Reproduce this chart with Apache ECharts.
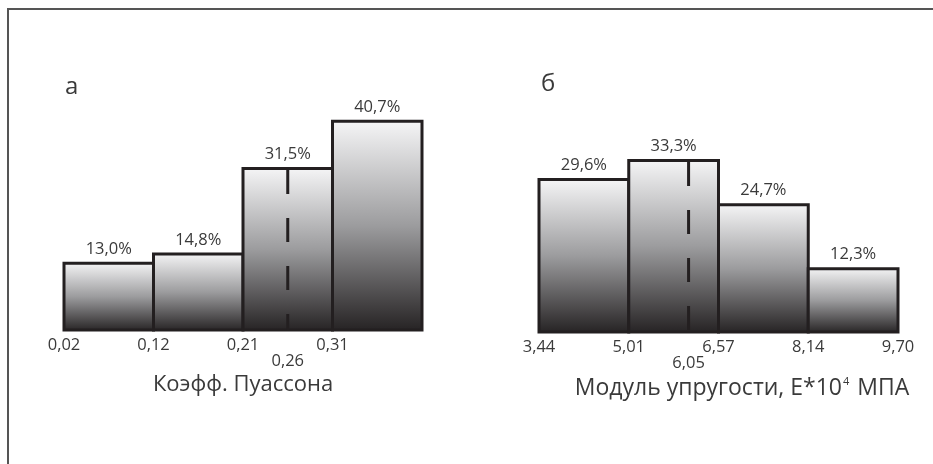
<!DOCTYPE html>
<html>
<head>
<meta charset="utf-8">
<script src="https://cdn.jsdelivr.net/npm/echarts@6/dist/echarts.min.js"></script>
<style>html,body{margin:0;padding:0;background:#fff;}#c{width:933px;height:464px;}</style>
</head>
<body>
<div id="c"></div>
<script>
// ---- data ----
const ticksA = ['0,02', '0,12', '0,21', '0,31', ''];
const edgesA = [0.02, 0.12, 0.21, 0.31];
const valuesA = [13.0, 14.8, 31.5, 40.7];
const medianA = 0.26;
const medianLabelA = '0,26';
const titleA = 'Коэфф. Пуассона';
const panelA = 'а';

const ticksB = ['3,44', '5,01', '6,57', '8,14', '9,70'];
const edgesB = [3.44, 5.01, 6.57, 8.14, 9.70];
const valuesB = [29.6, 33.3, 24.7, 12.3];
const medianB = 6.05;
const medianLabelB = '6,05';
const panelB = 'б';

const FONT = '"Open Sans", "DejaVu Sans", sans-serif';
const INK = '#231f20';
const TEXT = '#3a3a3a';
const LBL = 16.5;

function fmtPct(v) { return v.toFixed(1).replace('.', ',') + '%'; }

function medianPos(edges, values, m) {
  for (let i = 0; i < edges.length - 1; i++) {
    if (m >= edges[i] && m < edges[i + 1]) {
      return [i + (m - edges[i]) / (edges[i + 1] - edges[i]), values[i]];
    }
  }
  return [0, 0];
}

function barSeries(idx, values) {
  return {
    type: 'custom',
    xAxisIndex: idx, yAxisIndex: idx,
    data: values.map((v, i) => [i, v]),
    renderItem: function (params, api) {
      const i = api.value(0), v = api.value(1);
      const p0 = api.coord([i, 0]);
      const p1 = api.coord([i + 1, v]);
      return {
        type: 'rect',
        shape: { x: p0[0], y: p1[1], width: p1[0] - p0[0], height: p0[1] - p1[1] },
        style: {
          fill: new echarts.graphic.LinearGradient(0, 0, 0, 1, [
            { offset: 0, color: '#f6f6f7' },
            { offset: 0.5, color: '#9c9c9e' },
            { offset: 1, color: '#252223' }
          ]),
          stroke: INK, lineWidth: 3
        },
        textContent: {
          style: { text: fmtPct(v), fill: TEXT, font: LBL + 'px ' + FONT }
        },
        textConfig: { position: 'top', distance: 4 }
      };
    }
  };
}

function medianSeries(idx, pos, label) {
  return {
    type: 'custom',
    xAxisIndex: idx, yAxisIndex: idx,
    z: 5,
    data: [pos],
    renderItem: function (params, api) {
      const top = api.coord([api.value(0), api.value(1)]);
      const bot = api.coord([api.value(0), 0]);
      return {
        type: 'group',
        children: [
          { type: 'line', shape: { x1: top[0], y1: top[1] + 1.5, x2: bot[0], y2: bot[1] },
            style: { stroke: INK, lineWidth: 3, lineDash: [24, 24] } },
          { type: 'text', x: bot[0], y: bot[1] + 23,
            style: { text: label, fill: TEXT, font: LBL + 'px ' + FONT, align: 'center', verticalAlign: 'top' } }
        ]
      };
    }
  };
}

function xAxisFor(idx, ticks, name, padLeft, fs) {
  return {
    type: 'value', gridIndex: idx, min: 0, max: 4, interval: 1,
    axisLine: { show: false }, axisTick: { show: false }, splitLine: { show: false },
    axisLabel: {
      margin: 7, color: TEXT, fontFamily: FONT, fontSize: LBL,
      showMinLabel: true, showMaxLabel: true,
      formatter: v => ticks[Math.round(v)]
    },
    name: name, nameLocation: 'middle', nameGap: 44,
    nameTextStyle: {
      color: TEXT, fontFamily: FONT, fontSize: fs,
      padding: [0, 0, 0, padLeft],
      rich: {
        t: { color: TEXT, fontFamily: FONT, fontSize: fs },
        sup: { color: TEXT, fontFamily: FONT, fontSize: 11, verticalAlign: 'top', padding: [0, 2, 13, 1] }
      }
    }
  };
}

const chart = echarts.init(document.getElementById('c'));
chart.setOption({
  animation: false,
  backgroundColor: '#fff',
  graphic: [{
    type: 'rect', shape: { x: 8, y: 9, width: 1200, height: 1200 },
    style: { fill: 'none', stroke: '#555', lineWidth: 2 }, silent: true
  }],
  title: [
    { text: panelA, left: 60, top: 70, textStyle: { fontFamily: FONT, fontSize: 24, fontWeight: 'normal', color: TEXT } },
    { text: panelB, left: 536, top: 67, textStyle: { fontFamily: FONT, fontSize: 24, fontWeight: 'normal', color: TEXT } }
  ],
  grid: [
    { left: 64, width: 358, top: 73.5, height: 256.5 },
    { left: 539, width: 359, top: 74.5, height: 257.5 }
  ],
  xAxis: [
    xAxisFor(0, ticksA, titleA, 0, 22),
    xAxisFor(1, ticksB, '{t|Модуль упругости, E*10}{sup|4}{t| МПА}', 47, 23)
  ],
  yAxis: [
    { type: 'value', gridIndex: 0, min: 0, max: 50, show: false },
    { type: 'value', gridIndex: 1, min: 0, max: 50, show: false }
  ],
  series: [
    barSeries(0, valuesA),
    barSeries(1, valuesB),
    medianSeries(0, medianPos(edgesA, valuesA, medianA), medianLabelA),
    medianSeries(1, medianPos(edgesB, valuesB, medianB), medianLabelB)
  ]
});
</script>
</body>
</html>
